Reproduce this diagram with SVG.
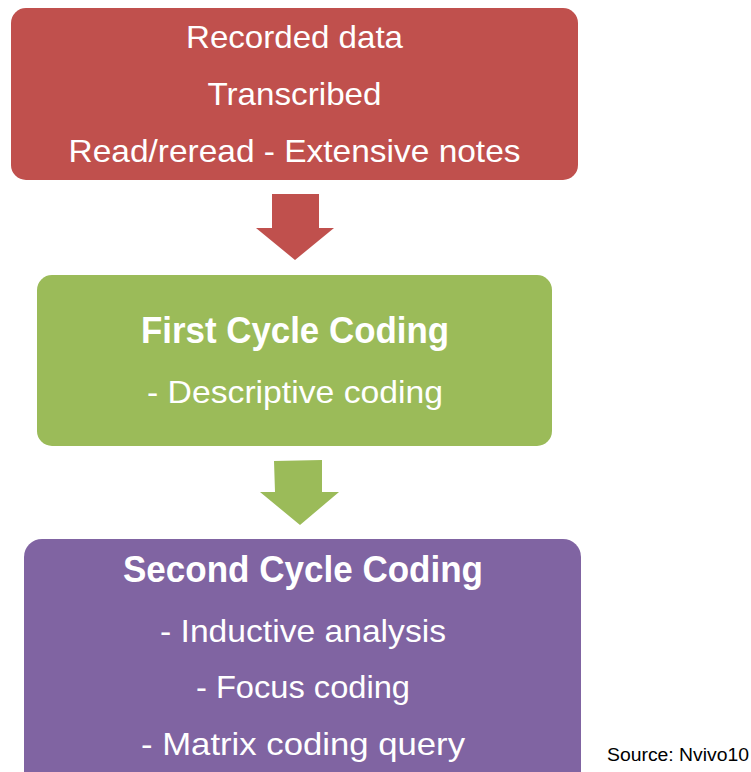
<svg xmlns="http://www.w3.org/2000/svg" width="751" height="772" viewBox="0 0 751 772">
<style>
.t{font-family:"Liberation Sans",Arial,sans-serif;fill:#fff;text-anchor:middle;font-size:32px}
.b{font-weight:bold;font-size:36px}
.s{font-family:"Liberation Sans",Arial,sans-serif;fill:#000;font-size:18px}
</style>
<rect width="751" height="772" fill="#fff"/>
<g id="node-recorded">
<rect x="11" y="8" width="567" height="172" rx="15" fill="#C0504D"/>
<text class="t" x="294.5" y="48" textLength="217" lengthAdjust="spacingAndGlyphs">Recorded data</text>
<text class="t" x="294.5" y="105" textLength="174" lengthAdjust="spacingAndGlyphs">Transcribed</text>
<text class="t" x="294.5" y="162" textLength="452" lengthAdjust="spacingAndGlyphs">Read/reread - Extensive notes</text>
</g>
<g id="node-first">
<rect x="37" y="275" width="515" height="171" rx="15" fill="#9BBB59"/>
<text class="t b" x="295" y="343" textLength="308" lengthAdjust="spacingAndGlyphs">First Cycle Coding</text>
<text class="t" x="295" y="403" textLength="296" lengthAdjust="spacingAndGlyphs">- Descriptive coding</text>
</g>
<g id="node-second">
<rect x="24" y="539" width="557" height="250" rx="18" fill="#8064A2"/>
<text class="t b" x="303" y="582" textLength="360" lengthAdjust="spacingAndGlyphs">Second Cycle Coding</text>
<text class="t" x="303" y="642" textLength="286" lengthAdjust="spacingAndGlyphs">- Inductive analysis</text>
<text class="t" x="303" y="698" textLength="214" lengthAdjust="spacingAndGlyphs">- Focus coding</text>
<text class="t" x="303" y="755" textLength="324" lengthAdjust="spacingAndGlyphs">- Matrix coding query</text>
</g>
<g id="connectors">
<polygon points="272,194 319,194 319,228 334,228 295,260 256,228 272,228" fill="#C0504D"/>
<polygon points="274,461 322,460 322,492 339,492 300,525 260,492 275,492" fill="#9BBB59"/>
</g>
<text class="s" x="607" y="761" textLength="142" lengthAdjust="spacingAndGlyphs">Source: Nvivo10</text>
</svg>
